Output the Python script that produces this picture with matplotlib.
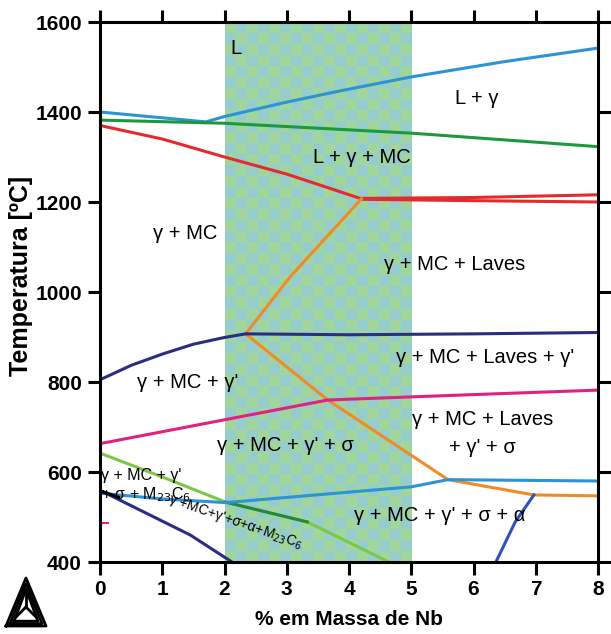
import numpy as np
import matplotlib
matplotlib.use('Agg')
import matplotlib.pyplot as plt
from matplotlib.lines import Line2D

# phase boundary lines (x = % Nb, y = temperature in C)
liq_x = [0, 1.7, 2.0, 3.0, 3.86, 5.0, 6.5, 8.0]
liq_y = [1400, 1378, 1390, 1422, 1447, 1478, 1512, 1542]
mc_x = [0, 2.0, 5.0, 8.0]
mc_y = [1382, 1375, 1353, 1323]
sol_x = [0, 1.0, 2.0, 3.0, 3.7, 4.2]
sol_y = [1370, 1340, 1300, 1262, 1230, 1207]
sol_hi_x = [4.2, 6.0, 8.0]
sol_hi_y = [1208, 1210, 1216]
sol_lo_x = [4.2, 6.0, 8.0]
sol_lo_y = [1206, 1203, 1200]
lav_up_x = [2.34, 3.05, 4.2]
lav_up_y = [907, 1033, 1207]
lav_lo_x = [2.34, 3.66, 5.59, 6.97, 8.0]
lav_lo_y = [907, 760, 583, 549, 547]
gp_x = [0, 0.5, 1.0, 1.5, 2.0, 2.34, 4.0, 6.0, 8.0]
gp_y = [805, 837, 862, 884, 899, 907, 905, 907, 910]
sig_x = [0, 3.66, 6.0, 8.0]
sig_y = [663, 760, 772, 782]
m23_x = [0, 1.0, 2.02, 3.33, 4.64]
m23_y = [642, 589, 533, 489, 400]
alpha_x = [0, 1.0, 2.02, 5.0, 5.59, 8.0]
alpha_y = [553, 540, 532, 567, 583, 580]
low_x = [0.05, 1.45, 2.12]
low_y = [556, 460, 400]
eta_x = [6.36, 6.67, 6.97]
eta_y = [400, 489, 549]

xticks = [0, 1, 2, 3, 4, 5, 6, 7, 8]
yticks = [400, 600, 800, 1000, 1200, 1400, 1600]

plt.rcParams['font.family'] = ['Liberation Sans', 'DejaVu Sans']
narrow = ['Liberation Sans Narrow', 'Liberation Sans']

fig = plt.figure(figsize=(6.11, 6.34), dpi=100)
ax = fig.add_axes([100/611, 1-562/634, 498/611, 540/634])

# checkered band between 2 and 5 % Nb
nx, ny = 17, 49
board = (np.add.outer(np.arange(ny), np.arange(nx)) % 2)
cmap = matplotlib.colors.ListedColormap(['#a0d69b', '#96cccc'])
ax.imshow(board, cmap=cmap, extent=[2, 5, 400, 1600], aspect='auto',
          interpolation='nearest', zorder=0)

lw = 2.2
ax.plot(liq_x, liq_y, color='#2b93d6', lw=lw)
ax.plot(mc_x, mc_y, color='#1b9a3c', lw=lw)
ax.plot(sol_x, sol_y, color='#e42a2c', lw=lw)
ax.plot(sol_hi_x, sol_hi_y, color='#e42a2c', lw=lw)
ax.plot(sol_lo_x, sol_lo_y, color='#e42a2c', lw=lw)
ax.plot(lav_up_x, lav_up_y, color='#f08c28', lw=lw)
ax.plot(lav_lo_x, lav_lo_y, color='#f08c28', lw=lw)
ax.plot(gp_x, gp_y, color='#2a2d80', lw=lw)
ax.plot(sig_x, sig_y, color='#e0217f', lw=lw)
ax.plot(m23_x, m23_y, color='#7cc846', lw=lw)
ax.plot(m23_x[2:4], m23_y[2:4], color='#1e8a3a', lw=lw)
ax.plot(alpha_x, alpha_y, color='#2b93d6', lw=lw)
ax.plot(low_x, low_y, color='#2a2d80', lw=lw)
ax.plot(low_x[:1] + [0.3], low_y[:1] + [544], color='black', lw=lw)
ax.plot(eta_x, eta_y, color='#2f52b8', lw=lw)
ax.plot([0.0, 0.13], [487, 487], color='#e0217f', lw=1.5)

fs = 14.5
ax.text(2.1, 1540, 'L', fontsize=fs, va='center')
ax.text(6.05, 1430, 'L + γ', fontsize=fs, ha='center', va='center')
ax.text(4.2, 1298, 'L + γ + MC', fontsize=fs, ha='center', va='center')
ax.text(1.37, 1131, 'γ + MC', fontsize=fs, ha='center', va='center')
ax.text(5.7, 1062, 'γ + MC + Laves', fontsize=fs, ha='center', va='center')
ax.text(6.18, 855, "γ + MC + Laves + γ'", fontsize=fs, ha='center', va='center')
ax.text(1.41, 798, "γ + MC + γ'", fontsize=fs, ha='center', va='center')
ax.text(6.14, 716, 'γ + MC + Laves', fontsize=fs, ha='center', va='center')
ax.text(6.14, 655, "+ γ' + σ", fontsize=fs, ha='center', va='center')
ax.text(2.97, 660, "γ + MC + γ' + σ", fontsize=fs, ha='center', va='center')
ax.text(5.46, 504, "γ + MC + γ' + σ + α", fontsize=fs, ha='center', va='center')
ax.text(0.02, 592, "γ + MC + γ'", fontsize=11.5, ha='left', va='center')
ax.text(0.02, 549, '+ σ + M$_{23}$C$_6$', fontsize=11.5, ha='left', va='center')
ax.text(2.17, 489, "γ +MC+γ'+σ+α+M$_{23}$C$_6$", fontsize=10, ha='center',
        va='center', rotation=-19)

ax.set_xlim(0, 8)
ax.set_ylim(400, 1600)
ax.set_xticks(xticks)
ax.set_yticks(yticks)
ax.tick_params(axis='both', direction='out', length=9, width=2.2,
               top=True, right=True, labelsize=15, pad=4)
for lab in ax.get_xticklabels() + ax.get_yticklabels():
    lab.set_fontweight('bold')
    lab.set_family(narrow)
for sp in ax.spines.values():
    sp.set_linewidth(2.2)

ax.set_xlabel('% em Massa de Nb', fontsize=15, fontweight='bold',
              family=narrow, labelpad=8)
ax.set_ylabel('Temperatura [ºC]', fontsize=18, fontweight='bold',
              family=narrow, labelpad=3)
ax.yaxis.set_label_coords(-0.135, 0.53)

# Thermo-Calc style logo
def fx(px):
    return px / 611
def fy(py):
    return 1 - py / 634
for s in [0, 4, 8]:
    xs = [6 + s, 26, 46 - s, 6 + s]
    ys = [626 - s * 0.6, 578 + s * 1.4, 626 - s * 0.6, 626 - s * 0.6]
    fig.add_artist(Line2D([fx(v) for v in xs], [fy(v) for v in ys],
                          color='black', lw=2))
for ex, ey in [(26, 592), (16, 617), (36, 617)]:
    fig.add_artist(Line2D([fx(26), fx(ex)], [fy(607), fy(ey)], color='black', lw=2))

fig.savefig('out.png', dpi=100)
